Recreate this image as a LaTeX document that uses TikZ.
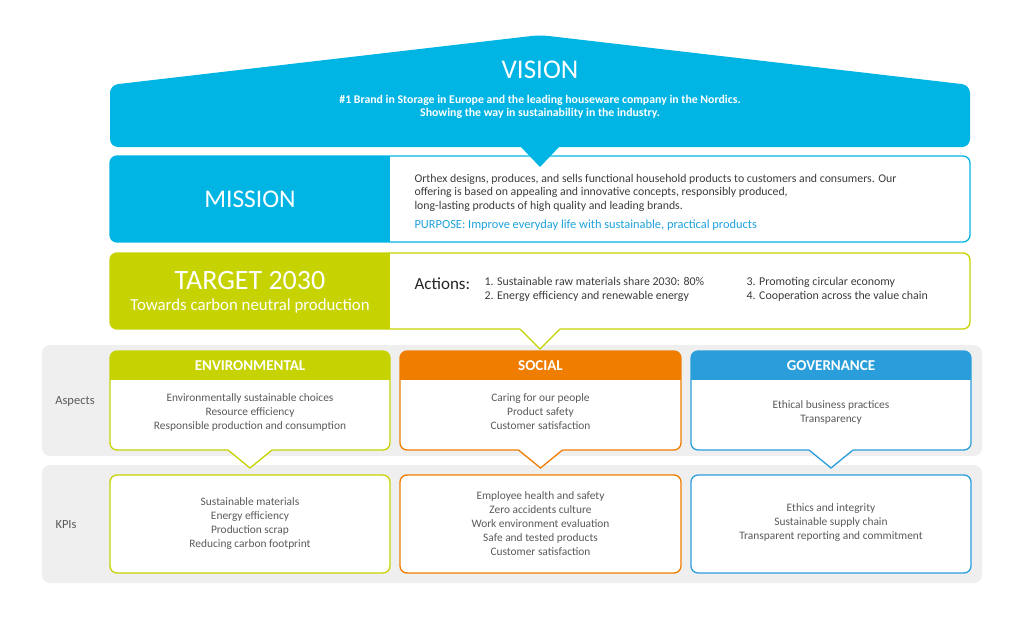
\documentclass[tikz,border=0pt]{standalone}
\usepackage{fontspec}
\setmainfont{Carlito}
\usepackage{xcolor}
\definecolor{visioncyan}{HTML}{00B4E4}
\definecolor{purposeblue}{HTML}{1EA2DC}
\definecolor{targetgreen}{HTML}{C6D300}
\definecolor{socialorange}{HTML}{EF7D00}
\definecolor{govblue}{HTML}{2A9EDA}
\definecolor{panelgray}{HTML}{EFEFEF}
\definecolor{textgray}{HTML}{5A5A5A}
\definecolor{darktext}{HTML}{3C3C3C}

\begin{document}
\begin{tikzpicture}[x=1pt, y=-1pt,
    panel/.style={fill=panelgray, rounded corners=8pt},
    boxline/.style={line width=1.3pt, rounded corners=7pt},
    tipline/.style={line width=1.3pt, line join=miter},
    bodytext/.style={text=textgray, font=\fontsize{11.4}{14}\selectfont, align=center},
    headtext/.style={text=white, font=\fontsize{15}{16}\selectfont\bfseries},
    rowlabel/.style={text=textgray, font=\fontsize{12.5}{14}\selectfont}]
    \useasboundingbox (0,0) rectangle (1024,618);

    % Fonds gris
    \fill[panel] (42,345) rectangle (982,456);
    \fill[panel] (42,465) rectangle (982,583);
    \node[rowlabel] (aspectslabel) at (75,401) {Aspects};
    \node[rowlabel] (kpislabel) at (66,525) {KPIs};

    % Mission
    \begin{scope}
        \clip[rounded corners=7pt] (110,156) rectangle (970,242);
        \fill[white] (110,156) rectangle (970,242);
        \fill[visioncyan] (110,156) rectangle (390,242);
    \end{scope}
    \draw[boxline, visioncyan] (110,156) rectangle (970,242);
    \node[text=white, font=\fontsize{25.5}{28}\selectfont] (missiontitle) at (250,199) {MISSION};
    \node[anchor=west, align=left, text=darktext, font=\fontsize{11.8}{13.5}\selectfont] (missiontext) at (411,192.5)
        {Orthex designs, produces, and sells functional household products to customers and consumers. Our\\
         offering is based on appealing and innovative concepts, responsibly produced,\\
         long-lasting products of high quality and leading brands.};
    \node[anchor=west, text=purposeblue, font=\fontsize{12.4}{14}\selectfont] (purpose) at (411,225)
        {PURPOSE: Improve everyday life with sustainable, practical products};

    % Vision
    \fill[visioncyan, rounded corners=8pt] (110,85) -- (540,35) -- (970,85) -- (970,147) -- (110,147) -- cycle;
    \fill[visioncyan] (520,146) -- (560,146) -- (540,167) -- cycle;
    \node[text=white, font=\fontsize{27}{30}\selectfont] (visiontitle) at (540,70) {VISION};
    \node[text=white, align=center, font=\fontsize{11.8}{13}\selectfont\bfseries] (visiontext) at (540,106.5)
        {\#1 Brand in Storage in Europe and the leading houseware company in the Nordics.\\
         Showing the way in sustainability in the industry.};

    % Target 2030
    \begin{scope}
        \clip[rounded corners=7pt] (110,253) rectangle (970,329);
        \fill[white] (110,253) rectangle (970,329);
        \fill[targetgreen] (110,253) rectangle (390,329);
    \end{scope}
    \draw[boxline, targetgreen] (110,253) rectangle (970,329);
    \fill[white] (520,327.6) -- (560,327.6) -- (560,329) -- (540,349) -- (520,329) -- cycle;
    \draw[tipline, targetgreen] (520,329) -- (540,349) -- (560,329);
    \node[text=white, font=\fontsize{28}{30}\selectfont] (targettitle) at (250,281) {TARGET 2030};
    \node[text=white, font=\fontsize{16.8}{18}\selectfont] (targetsub) at (250,306) {Towards carbon neutral production};
    \node[anchor=west, text=black!85, font=\fontsize{17}{18}\selectfont] (actions) at (411,284) {Actions:};
    \node[anchor=west, align=left, text=darktext, font=\fontsize{11.9}{14}\selectfont] (actionsleft) at (481,289)
        {1. Sustainable raw materials share 2030: 80\%\\2. Energy efficiency and renewable energy};
    \node[anchor=west, align=left, text=darktext, font=\fontsize{11.9}{14}\selectfont] (actionsright) at (743,289)
        {3. Promoting circular economy\\4. Cooperation across the value chain};

    % Aspects
    \fill[white, rounded corners=7pt] (110,351) rectangle (390,450);
    \begin{scope}
        \clip[rounded corners=7pt] (110,351) rectangle (390,450);
        \fill[targetgreen] (110,351) rectangle (390,380);
    \end{scope}
    \draw[boxline, targetgreen] (110,351) rectangle (390,450);
    \fill[white] (228,448.6) -- (272,448.6) -- (272,450) -- (250,468) -- (228,450) -- cycle;
    \draw[tipline, targetgreen] (228,450) -- (250,468) -- (272,450);

    \fill[white, rounded corners=7pt] (400,351) rectangle (681,450);
    \begin{scope}
        \clip[rounded corners=7pt] (400,351) rectangle (681,450);
        \fill[socialorange] (400,351) rectangle (681,380);
    \end{scope}
    \draw[boxline, socialorange] (400,351) rectangle (681,450);
    \fill[white] (518.5,448.6) -- (562.5,448.6) -- (562.5,450) -- (540.5,468) -- (518.5,450) -- cycle;
    \draw[tipline, socialorange] (518.5,450) -- (540.5,468) -- (562.5,450);

    \fill[white, rounded corners=7pt] (691,351) rectangle (971,450);
    \begin{scope}
        \clip[rounded corners=7pt] (691,351) rectangle (971,450);
        \fill[govblue] (691,351) rectangle (971,380);
    \end{scope}
    \draw[boxline, govblue] (691,351) rectangle (971,450);
    \fill[white] (809,448.6) -- (853,448.6) -- (853,450) -- (831,468) -- (809,450) -- cycle;
    \draw[tipline, govblue] (809,450) -- (831,468) -- (853,450);

    \node[headtext] (envhead) at (250,366) {ENVIRONMENTAL};
    \node[headtext] (socialhead) at (540.5,366) {SOCIAL};
    \node[headtext] (govhead) at (831,366) {GOVERNANCE};

    \node[bodytext] (envaspects) at (250,412)
        {Environmentally sustainable choices\\Resource efficiency\\Responsible production and consumption};
    \node[bodytext] (socialaspects) at (540.5,412)
        {Caring for our people\\Product safety\\Customer satisfaction};
    \node[bodytext] (govaspects) at (831,412)
        {Ethical business practices\\Transparency};

    % KPIs
    \draw[boxline, targetgreen, fill=white] (110,475) rectangle (390,573);
    \draw[boxline, socialorange, fill=white] (400,475) rectangle (681,573);
    \draw[boxline, govblue, fill=white] (691,475) rectangle (971,573);

    \node[bodytext] (envkpis) at (250,524)
        {Sustainable materials\\Energy efficiency\\Production scrap\\Reducing carbon footprint};
    \node[bodytext] (socialkpis) at (540.5,524)
        {Employee health and safety\\Zero accidents culture\\Work environment evaluation\\Safe and tested products\\Customer satisfaction};
    \node[bodytext] (govkpis) at (831,523)
        {Ethics and integrity\\Sustainable supply chain\\Transparent reporting and commitment};

\end{tikzpicture}
\end{document}
